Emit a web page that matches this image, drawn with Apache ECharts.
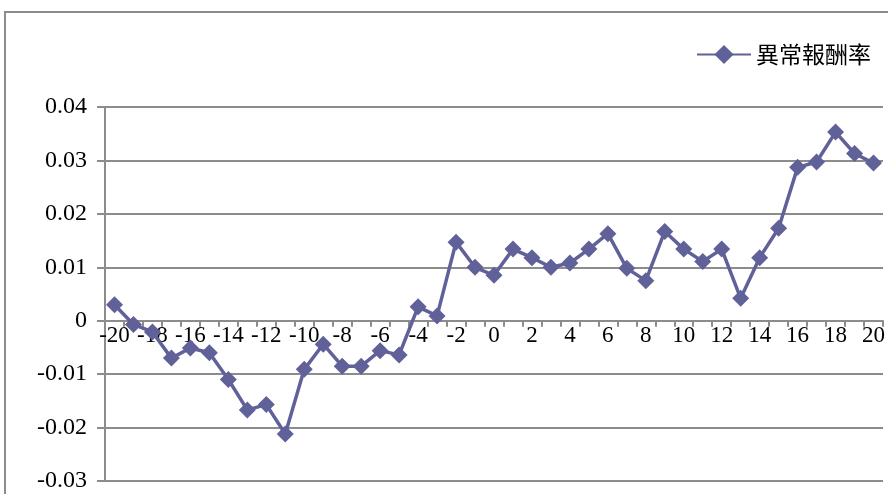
<!DOCTYPE html>
<html>
<head>
<meta charset="utf-8">
<script src="https://cdn.jsdelivr.net/npm/echarts@6/dist/echarts.min.js"></script>
<style>
  html, body { margin: 0; padding: 0; background: #fff; }
  #main { width: 888px; height: 494px; }
</style>
</head>
<body>
<div id="main"></div>
<script>
var days = [];
for (var d = -20; d <= 20; d++) days.push(String(d));

var seriesName = '異常報酬率';
var abnormalReturn = [
    0.0030, -0.0007, -0.0021, -0.0070, -0.0051, -0.0060, -0.0110, -0.0167, -0.0157, -0.0212,
    -0.0091, -0.0044, -0.0085, -0.0085, -0.0056, -0.0064, 0.0026, 0.0009, 0.0147, 0.0100,
    0.0085, 0.0134, 0.0118, 0.0100, 0.0108, 0.0134, 0.0163, 0.0098, 0.0075, 0.0167,
    0.0134, 0.0111, 0.0134, 0.0042, 0.0118, 0.0173, 0.0287, 0.0297, 0.0353, 0.0313,
    0.0295
];
var yMin = -0.03, yMax = 0.04, yStep = 0.01;

var lineColor = '#61619a';
var gridColor = '#8c8c8c';
var serif = '"Liberation Serif", "DejaVu Serif", serif';

// grid box; the category axis is lifted from the bottom up to y = 0
var gridTop = 107, gridBottom = 13;
var plotHeight = 494 - gridTop - gridBottom;
var zeroLift = plotHeight * (0 - yMin) / (yMax - yMin);

var myChart = echarts.init(document.getElementById('main'));
var option = {
    backgroundColor: '#fff',
    animation: false,
    graphic: [{
        type: 'polyline',
        shape: { points: [[5, 494], [5, 12], [888, 12]] },
        style: { stroke: gridColor, lineWidth: 2, fill: null }
    }],
    legend: {
        right: 12,
        top: 38,
        itemWidth: 54,
        itemHeight: 24,
        itemGap: 8,
        data: [{ name: seriesName }],
        textStyle: {
            fontFamily: '"Noto Sans CJK TC", sans-serif',
            fontSize: 23,
            color: '#000'
        }
    },
    grid: {
        left: 105,
        right: 5,
        top: gridTop,
        bottom: gridBottom,
        outerBoundsMode: 'none'
    },
    xAxis: {
        type: 'category',
        data: days,
        boundaryGap: true,
        offset: -zeroLift,
        axisLine: { onZero: false, lineStyle: { color: gridColor, width: 2 } },
        axisTick: { show: true, interval: 0, length: 6, alignWithLabel: false, lineStyle: { color: gridColor, width: 2 } },
        axisLabel: {
            interval: 1,
            margin: 4,
            color: '#000',
            fontFamily: serif,
            fontSize: 23
        },
        splitLine: { show: false }
    },
    yAxis: {
        type: 'value',
        min: yMin,
        max: yMax,
        interval: yStep,
        axisLine: { show: true, lineStyle: { color: gridColor, width: 2 } },
        axisTick: { show: true, length: 8, lineStyle: { color: gridColor, width: 2 } },
        axisLabel: {
            margin: 18,
            color: '#000',
            fontFamily: serif,
            fontSize: 24,
            formatter: function (v) {
                var s = String(Math.round(v * 100) / 100);
                if (s === '-0') s = '0';
                return s;
            }
        },
        splitLine: { show: true, lineStyle: { color: gridColor, width: 2 } }
    },
    series: [{
        name: seriesName,
        type: 'line',
        data: abnormalReturn,
        symbol: 'diamond',
        symbolSize: 17,
        showAllSymbol: true,
        lineStyle: { color: lineColor, width: 3.5 },
        itemStyle: { color: lineColor }
    }]
};
myChart.setOption(option);
</script>
</body>
</html>
